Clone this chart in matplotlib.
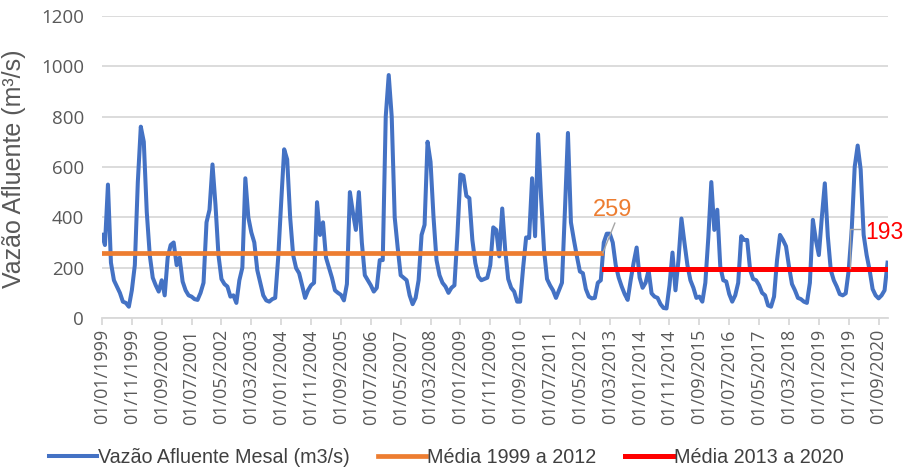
import matplotlib
matplotlib.use("Agg")
import matplotlib.pyplot as plt
import numpy as np
import pandas as pd

# Monthly inflow (m3/s), Jan 1999 .. Dec 2020
vazao = [
    330, 290, 530, 220, 150, 125, 100, 65, 60, 45, 110, 210,        # 1999
    540, 760, 700, 420, 250, 160, 130, 105, 150, 90, 240, 290,      # 2000
    300, 210, 240, 145, 110, 90, 85, 75, 72, 100, 140, 380,         # 2001
    430, 610, 450, 250, 155, 135, 125, 85, 90, 60, 150, 200,        # 2002
    555, 400, 340, 300, 190, 140, 90, 70, 65, 75, 80, 240,          # 2003
    460, 670, 630, 400, 250, 198, 178, 130, 80, 110, 130, 140,      # 2004
    460, 330, 380, 240, 200, 160, 110, 100, 92, 70, 135, 500,       # 2005
    420, 350, 500, 300, 170, 150, 130, 105, 120, 230, 230, 800,     # 2006
    965, 800, 400, 280, 170, 160, 150, 90, 55, 80, 150, 330,        # 2007
    370, 700, 620, 400, 230, 170, 140, 125, 100, 120, 130, 330,     # 2008
    570, 565, 485, 476, 310, 218, 165, 150, 155, 160, 210, 360,     # 2009
    350, 245, 435, 270, 155, 120, 105, 65, 65, 200, 320, 318,       # 2010
    555, 325, 730, 480, 270, 155, 130, 110, 80, 110, 140, 430,      # 2011
    735, 380, 310, 245, 185, 178, 115, 85, 78, 80, 140, 150,        # 2012
    300, 335, 335, 300, 210, 160, 125, 95, 72, 150, 220, 280,       # 2013
    160, 120, 140, 190, 98, 85, 80, 55, 40, 38, 130, 260,           # 2014
    110, 230, 395, 300, 210, 150, 120, 80, 85, 65, 140, 320,        # 2015
    540, 350, 430, 205, 150, 145, 95, 65, 90, 140, 325, 310,        # 2016
    310, 190, 155, 150, 130, 100, 90, 50, 45, 85, 230, 330,         # 2017
    310, 285, 205, 135, 110, 80, 75, 65, 60, 140, 390, 310,         # 2018
    250, 400, 535, 325, 190, 150, 125, 95, 90, 98, 190, 350,        # 2019
    600, 685, 590, 330, 250, 190, 115, 90, 78, 90, 110, 220,        # 2020
]
meses = pd.date_range("1999-01-01", periods=len(vazao), freq="MS")
rotulos = [d.strftime("%d/%m/%Y") for d in meses]

media_1 = 259   # 1999 a 2012
media_2 = 193   # 2013 a 2020
n_1 = 168       # months in 1999-2012

fig = plt.figure(figsize=(9.04, 4.67), dpi=100)
ax = fig.add_axes([0.1128, 0.319, 0.869, 0.647])

x = np.arange(len(vazao))
ax.plot(x, vazao, color="#4472C4", lw=2.9, solid_joinstyle="round",
        label="Vazão Afluente Mesal (m3/s)", zorder=3)
ax.plot(x[:n_1], [media_1] * n_1, color="#ED7D31", lw=3.4,
        label="Média 1999 a 2012", zorder=4)
ax.plot(x[n_1:], [media_2] * (len(vazao) - n_1), color="#FF0000", lw=3.6,
        label="Média 2013 a 2020", zorder=4)

# data labels with leader lines
ax.plot([167.7, 171.7], [259, 377], color="#A6A6A6", lw=1, zorder=5)
ax.text(164.5, 405, "259", color="#ED7D31", fontsize=17,
        family="Liberation Sans", ha="left", va="baseline")
ax.plot([250.5, 250.5, 253.9], [198, 354, 354], color="#A6A6A6", lw=1, zorder=5)
ax.text(255.4, 315, "193", color="#FF0000", fontsize=16.5,
        family="Liberation Sans", ha="left", va="baseline", clip_on=False)

ax.set_xlim(0, 263)
ax.set_ylim(0, 1200)
ax.set_yticks(range(0, 1201, 200))
ax.set_xticks(x[::10])
ax.set_xticklabels(rotulos[::10], rotation=90)
ax.grid(axis="y", color="#D9D9D9", lw=1.3)
ax.set_axisbelow(True)
for s in ["top", "right", "left"]:
    ax.spines[s].set_visible(False)
ax.spines["bottom"].set_color("#D9D9D9")
ax.spines["bottom"].set_linewidth(1.3)
ax.tick_params(axis="y", length=0, pad=13, labelsize=13.5, labelcolor="#595959")
ax.tick_params(axis="x", length=5, width=1.3, color="#D9D9D9", pad=3,
               labelsize=13, labelcolor="#595959")
for t in ax.get_xticklabels() + ax.get_yticklabels():
    t.set_family("Open Sans")

ax.set_ylabel("Vazão Afluente (m³/s)", fontsize=18, color="#595959",
              family="Liberation Sans")
ax.yaxis.set_label_coords(-0.0973, 0.493)

leg = fig.legend(loc="lower center", bbox_to_anchor=(0.494, -0.037), ncol=3,
                 frameon=False, handlelength=2.43, handletextpad=0.05,
                 columnspacing=1.45, prop={"family": "Liberation Sans", "size": 14.2})
for t in leg.get_texts():
    t.set_color("#404040")

fig.savefig("out.png", dpi=100)
